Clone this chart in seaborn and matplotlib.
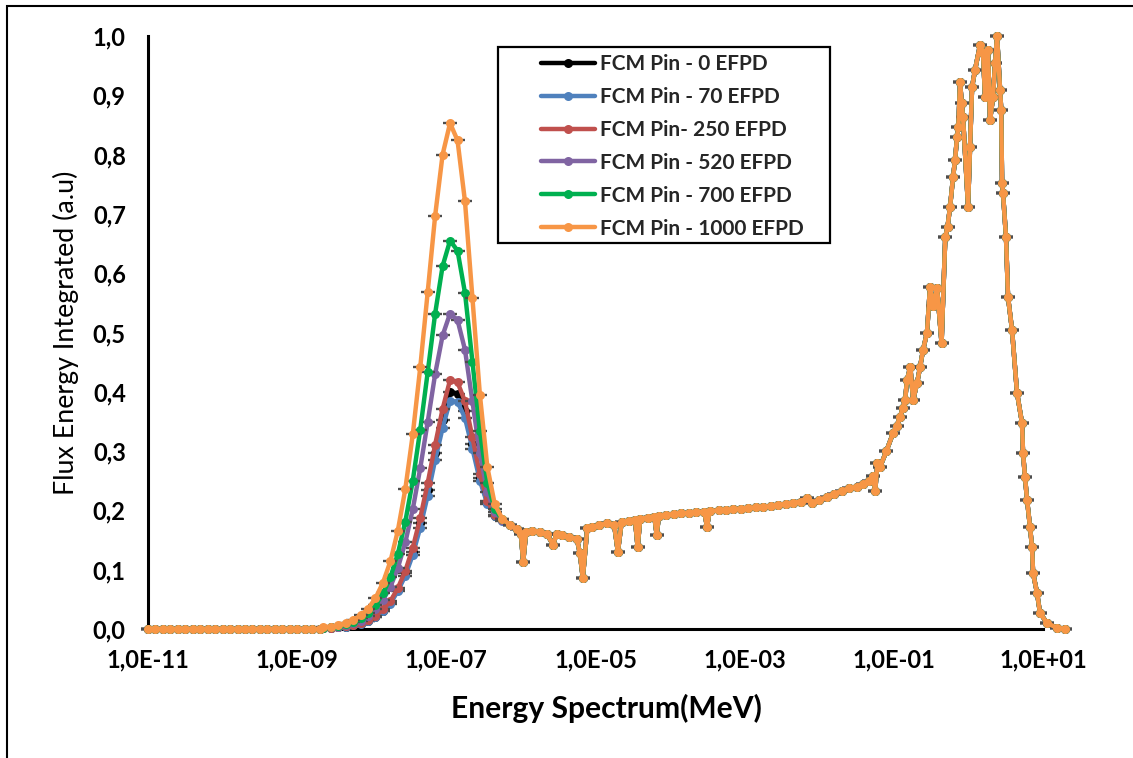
import numpy as np
import pandas as pd
import matplotlib
matplotlib.use("Agg")
import matplotlib.pyplot as plt
from matplotlib.patches import Rectangle
from matplotlib.ticker import NullLocator
import seaborn as sns

# ---------------------------------------------------------------- data
series_names = ["FCM Pin - 0 EFPD", "FCM Pin - 70 EFPD", "FCM Pin- 250 EFPD",
                "FCM Pin - 520 EFPD", "FCM Pin - 700 EFPD", "FCM Pin - 1000 EFPD"]
series_colors = ["#000000", "#4F81BD", "#C0504D", "#8064A2", "#00B050", "#F79646"]

# log10(E / MeV), below the thermal peak (no flux there)
log_e_low = [-11.0, -10.9, -10.8, -10.7, -10.6, -10.5, -10.4, -10.3, -10.2, -10.1,
             -10.0, -9.9, -9.8, -9.7, -9.6, -9.5, -9.4, -9.3, -9.2, -9.1,
             -9.0, -8.9, -8.8, -8.7]
flux_low = [0.0, 0.0, 0.0, 0.0, 0.0, 0.0, 0.0, 0.0, 0.0, 0.0,
            0.0, 0.0, 0.0, 0.0, 0.0, 0.0, 0.0, 0.0, 0.0, 0.0,
            0.0, 0.0, 0.0, 0.0]

# thermal peak region, one list of values per burnup step
log_e_thermal = [-8.65, -8.55, -8.45, -8.35, -8.25, -8.15, -8.05, -7.95, -7.85,
                 -7.75, -7.65, -7.55, -7.45, -7.35, -7.25, -7.15, -7.05, -6.95,
                 -6.85, -6.75, -6.65, -6.55, -6.45, -6.35, -6.25, -6.15, -6.05]
flux_0_efpd = [0.001, 0.002, 0.003, 0.004, 0.006, 0.009, 0.014, 0.021, 0.031,
               0.045, 0.066, 0.094, 0.130, 0.178, 0.234, 0.296, 0.353, 0.400,
               0.397, 0.368, 0.312, 0.255, 0.213, 0.191, 0.183, 0.175, 0.168]
flux_70_efpd = [0.001, 0.002, 0.003, 0.004, 0.006, 0.009, 0.0135, 0.020, 0.030,
                0.043, 0.064, 0.090, 0.125, 0.171, 0.225, 0.285, 0.339, 0.385,
                0.383, 0.356, 0.304, 0.250, 0.211, 0.191, 0.182, 0.175, 0.168]
flux_250_efpd = [0.001, 0.002, 0.003, 0.0045, 0.007, 0.010, 0.015, 0.022, 0.033,
                 0.047, 0.069, 0.098, 0.137, 0.187, 0.246, 0.311, 0.371, 0.420,
                 0.416, 0.384, 0.323, 0.261, 0.216, 0.192, 0.183, 0.175, 0.168]
flux_520_efpd = [0.002, 0.003, 0.004, 0.006, 0.010, 0.014, 0.022, 0.033, 0.049,
                 0.071, 0.103, 0.146, 0.202, 0.271, 0.349, 0.430, 0.495, 0.532,
                 0.521, 0.471, 0.384, 0.296, 0.231, 0.197, 0.184, 0.175, 0.168]
flux_700_efpd = [0.002, 0.003, 0.005, 0.008, 0.012, 0.018, 0.027, 0.040, 0.060,
                 0.087, 0.127, 0.181, 0.250, 0.336, 0.433, 0.532, 0.612, 0.655,
                 0.638, 0.567, 0.451, 0.334, 0.247, 0.202, 0.185, 0.176, 0.168]
flux_1000_efpd = [0.003, 0.004, 0.006, 0.010, 0.015, 0.023, 0.034, 0.052, 0.078,
                  0.114, 0.166, 0.236, 0.328, 0.441, 0.568, 0.697, 0.800, 0.853,
                  0.824, 0.721, 0.558, 0.395, 0.273, 0.210, 0.186, 0.176, 0.168]
thermal_flux = [flux_0_efpd, flux_70_efpd, flux_250_efpd,
                flux_520_efpd, flux_700_efpd, flux_1000_efpd]

# epithermal slowing-down region with resonance dips (common to all steps)
log_e_epi = [-6.00, -5.97, -5.93, -5.85, -5.75, -5.65, -5.57, -5.52, -5.45, -5.35,
             -5.25, -5.21, -5.17, -5.11, -5.05, -4.95, -4.85, -4.75, -4.70, -4.65,
             -4.55, -4.47, -4.435, -4.40, -4.30, -4.21, -4.18, -4.15, -4.05, -3.95,
             -3.85, -3.75, -3.65, -3.54, -3.505, -3.47, -3.35, -3.25, -3.15, -3.05,
             -2.95, -2.85, -2.75, -2.65, -2.55, -2.45, -2.35, -2.25, -2.17, -2.10,
             -2.00, -1.90, -1.80, -1.70, -1.60, -1.50, -1.41, -1.33, -1.28, -1.25,
             -1.22]
flux_epi = [0.160, 0.113, 0.163, 0.166, 0.164, 0.160, 0.142, 0.161, 0.158, 0.155,
            0.152, 0.128, 0.086, 0.170, 0.172, 0.175, 0.178, 0.176, 0.130, 0.180,
            0.182, 0.184, 0.138, 0.186, 0.188, 0.189, 0.159, 0.190, 0.192, 0.194,
            0.195, 0.196, 0.197, 0.198, 0.172, 0.199, 0.200, 0.201, 0.202, 0.203,
            0.204, 0.205, 0.206, 0.207, 0.209, 0.211, 0.213, 0.215, 0.221, 0.213,
            0.217, 0.223, 0.228, 0.233, 0.237, 0.240, 0.244, 0.250, 0.258, 0.232,
            0.280]

# fast (fission) region
log_e_fast = [-1.185, -1.10, -1.011, -0.96, -0.917, -0.88, -0.849, -0.823, -0.779,
              -0.741, -0.688, -0.648, -0.609, -0.555, -0.515, -0.47, -0.42, -0.36,
              -0.31, -0.28, -0.246, -0.206, -0.179, -0.152, -0.135, -0.112, -0.09,
              -0.072, -0.005, 0.022, 0.049, 0.089, 0.156, 0.196, 0.223, 0.263,
              0.290, 0.330, 0.357, 0.384, 0.424, 0.44, 0.451, 0.464, 0.504, 0.531,
              0.585, 0.652, 0.719, 0.732, 0.759, 0.786, 0.826, 0.853, 0.867, 0.920,
              0.960, 1.054, 1.188, 1.295]
flux_fast = [0.273, 0.300, 0.330, 0.343, 0.358, 0.372, 0.386, 0.420, 0.442,
             0.386, 0.415, 0.442, 0.470, 0.500, 0.577, 0.545, 0.575, 0.482,
             0.661, 0.678, 0.712, 0.762, 0.791, 0.830, 0.847, 0.922, 0.887,
             0.863, 0.712, 0.813, 0.914, 0.943, 0.985, 0.971, 0.897, 0.976,
             0.858, 0.897, 0.954, 1.000, 0.909, 0.875, 0.752, 0.735, 0.661, 0.560,
             0.504, 0.398, 0.347, 0.297, 0.256, 0.218, 0.172, 0.138, 0.094, 0.061,
             0.027, 0.010, 0.002, 0.0]

xtick_exponents = [-11, -9, -7, -5, -3, -1, 1]
xtick_labels = ["1,0E-11", "1,0E-09", "1,0E-07", "1,0E-05", "1,0E-03", "1,0E-01", "1,0E+01"]
ytick_values = [0.0, 0.1, 0.2, 0.3, 0.4, 0.5, 0.6, 0.7, 0.8, 0.9, 1.0]
ytick_labels = ["0,0", "0,1", "0,2", "0,3", "0,4", "0,5", "0,6", "0,7", "0,8", "0,9", "1,0"]

# ---------------------------------------------------------------- style
sns.set_theme(style="white")
plt.rcParams["font.family"] = ["Lato", "DejaVu Sans"]

W, H = 1133, 758
fig = plt.figure(figsize=(W / 100, H / 100), dpi=100)
ax = fig.add_axes([148 / W, (H - 629) / H, 895 / W, 593 / H])

line_handles = []
for i, (name, color, thermal) in enumerate(zip(series_names, series_colors, thermal_flux)):
    log_e = log_e_low + log_e_thermal + log_e_epi + log_e_fast
    flux = flux_low + thermal + flux_epi + flux_fast
    df = pd.DataFrame({"energy": np.power(10.0, log_e), "flux": flux})
    # short horizontal bars behind every data point
    ax.plot(df["energy"], df["flux"], linestyle="none", marker="_", markersize=9.5,
            markeredgewidth=1.7, color="#4d4d4d", zorder=2 + 2 * i, clip_on=False)
    sns.lineplot(data=df, x="energy", y="flux", sort=False, ax=ax,
                 color=color, linewidth=3.2, marker="o", markersize=6.5,
                 markeredgewidth=0, zorder=3 + 2 * i, clip_on=False, legend=False)
    line = ax.lines[-1]
    line.set_label(name)
    line_handles.append(line)

ax.set_xscale("log")
ax.set_xlim(1e-11, 1e1)
ax.set_ylim(0, 1.0)
ax.set_xticks([10.0 ** e for e in xtick_exponents], xtick_labels)
ax.xaxis.set_minor_locator(NullLocator())
ax.set_yticks(ytick_values, ytick_labels)

for side in ("top", "right"):
    ax.spines[side].set_visible(False)
for side in ("left", "bottom"):
    ax.spines[side].set_color("black")
    ax.spines[side].set_linewidth(2.2)
    ax.spines[side].set_zorder(1)

ax.tick_params(axis="both", direction="in", length=6, width=1.8, color="black",
               labelsize=17, labelcolor="black")
ax.tick_params(axis="x", pad=14)
ax.tick_params(axis="y", pad=16)
for lab in ax.get_xticklabels() + ax.get_yticklabels():
    lab.set_fontweight("bold")

ax.set_xlabel("Energy Spectrum(MeV)", fontsize=21.6, fontweight="bold", color="black")
ax.xaxis.set_label_coords((606 - 148) / 895, (629 - 694) / 593)
ax.set_ylabel("Flux Energy Integrated (a.u)", fontsize=19.3, color="black")
ax.yaxis.set_label_coords((79 - 148) / 895, 0.5)

# legend box
fig.add_artist(Rectangle((498 / W, 1 - 243 / H), (830 - 498) / W, (243 - 47) / H,
                         transform=fig.transFigure, facecolor="white",
                         edgecolor="black", linewidth=1.6, zorder=1))
fig.legend(handles=line_handles, labels=series_names, loc="upper left",
           bbox_to_anchor=(541 / W, 1 - 54 / H), frameon=False, borderpad=0,
           borderaxespad=0, handlelength=2.6, handletextpad=0.25, labelspacing=0.62,
           prop={"family": ["Lato", "DejaVu Sans"], "weight": "bold", "size": 15})

# outer border of the figure
fig.add_artist(Rectangle((7 / W, -0.02), 1.1, 1.02 - 6 / H, transform=fig.transFigure,
                         fill=False, edgecolor="black", linewidth=1.5, zorder=0))

fig.savefig("out.png", dpi=100, facecolor="white")
